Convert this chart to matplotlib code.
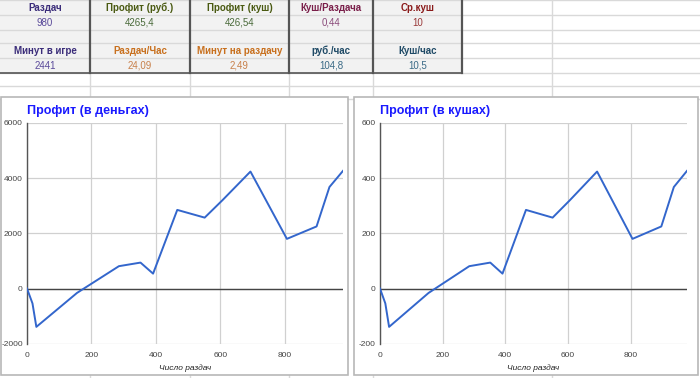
import matplotlib
matplotlib.use("Agg")
import matplotlib.pyplot as plt
from matplotlib.patches import Rectangle

plt.rcParams['font.family'] = ['Liberation Sans', 'DejaVu Sans']
plt.rcParams['axes.unicode_minus'] = False

# ---------------- data ----------------
hands = [0, 17, 29, 155, 285, 352, 391, 466, 551, 606, 693, 806, 898, 938, 980]
profit_rub = [0, -540, -1390, -160, 810, 940, 540, 2850, 2570, 3200, 4240, 1800, 2250, 3680, 4265.4]
profit_kush = [0, -54, -139, -16, 81, 94, 54, 285, 257, 320, 424, 180, 225, 368, 426.54]

row1_headers = ["Раздач", "Профит (руб.)", "Профит (куш)", "Куш/Раздача", "Ср.куш"]
row1_values = ["980", "4265,4", "426,54", "0,44", "10"]
row2_headers = ["Минут в игре", "Раздач/Час", "Минут на раздачу", "руб./час", "Куш/час"]
row2_values = ["2441", "24,09", "2,49", "104,8", "10,5"]

row1_header_colors = ["#3b2d7a", "#4a5a12", "#4a5a12", "#7a1f4a", "#8a1a1a"]
row1_value_colors = ["#5a4a9a", "#4a6a3a", "#4a6a3a", "#8a4a7a", "#9a3a3a"]
row2_header_colors = ["#3b2d7a", "#c8701e", "#c8701e", "#1f4a66", "#1f4a66"]
row2_value_colors = ["#5a4a9a", "#c8804a", "#c8804a", "#3a6a86", "#3a6a86"]

x_ticks = [0, 200, 400, 600, 800]

W, H = 700, 378
fig = plt.figure(figsize=(W / 100, H / 100), dpi=100)
fig.patch.set_facecolor("white")

# background axes in pixel coordinates (y downward)
bg = fig.add_axes([0, 0, 1, 1])
bg.set_xlim(0, W)
bg.set_ylim(H, 0)
bg.axis("off")

col_edges = [0, 90, 190, 289, 373, 462]
row_edges = [0, 15, 30, 43, 58, 73, 86, 99]
extra_cols = [552]

# table fill
bg.add_patch(Rectangle((0, 0), 462, 73, facecolor="#f2f2f2", edgecolor="none", zorder=0))
# light horizontal grid lines
for y in row_edges:
    bg.plot([0, W], [y, y], color="#d9d9d9", lw=1, zorder=1)
for x in extra_cols:
    bg.plot([x, x], [0, H], color="#d9d9d9", lw=1, zorder=1)
for x in col_edges[1:5]:
    bg.plot([x, x], [73, H], color="#d9d9d9", lw=1, zorder=1)
# dark vertical borders in table
for x in col_edges[1:]:
    bg.plot([x, x], [0, 73], color="#555555", lw=1.6, zorder=2)
bg.plot([0, 462], [73, 73], color="#555555", lw=1.2, zorder=2)

def put_row(texts, colors, yc, bold):
    for i, (t, c) in enumerate(zip(texts, colors)):
        xc = (col_edges[i] + col_edges[i + 1]) / 2
        bg.text(xc, yc, t, color=c, fontsize=7, ha="center", va="center",
                fontweight="bold" if bold else "normal", zorder=3)

put_row(row1_headers, row1_header_colors, 7.8, True)
put_row(row1_values, row1_value_colors, 22.8, False)
put_row(row2_headers, row2_header_colors, 50.8, True)
put_row(row2_values, row2_value_colors, 65.8, False)

# chart boxes
bg.add_patch(Rectangle((1, 97), 347, 278, facecolor="white", edgecolor="#b8b8b8", lw=1.2, zorder=4))
bg.add_patch(Rectangle((354, 97), 344, 278, facecolor="white", edgecolor="#b8b8b8", lw=1.2, zorder=4))


def make_chart(px_left, px_right, title, xs, ys, ylim, yticks):
    top, bottom = 123, 343.7
    ax = fig.add_axes([px_left / W, (H - bottom) / H, (px_right - px_left) / W, (bottom - top) / H])
    ax.set_facecolor("none")
    ax.plot(xs, ys, color="#3366cc", lw=1.4, zorder=5)
    ax.set_xlim(0, 980)
    ax.set_ylim(*ylim)
    ax.set_xticks(x_ticks)
    ax.set_yticks(yticks)
    ax.grid(True, color="#d0d0d0", lw=0.9)
    ax.set_axisbelow(True)
    ax.axhline(0, color="#444444", lw=1.0, zorder=4)
    for s in ["top", "right", "bottom"]:
        ax.spines[s].set_visible(False)
    ax.spines["left"].set_color("#555555")
    ax.spines["left"].set_linewidth(1.0)
    ax.tick_params(length=0, labelsize=6, labelcolor="#444444", pad=3)
    ax.tick_params(axis="x", pad=6)
    ax.set_xlabel("Число раздач", fontsize=6, style="italic", color="#222222", labelpad=4)
    ax.text(0, 1.055, title, transform=ax.transAxes, fontsize=9, fontweight="bold",
            color="#1a1aff", ha="left", va="center")
    return ax

make_chart(27, 343, "Профит (в деньгах)", hands, profit_rub, (-2000, 6000),
           [-2000, 0, 2000, 4000, 6000])
make_chart(380, 687, "Профит (в кушах)", hands, profit_kush, (-200, 600),
           [-200, 0, 200, 400, 600])

fig.savefig("out.png", dpi=100)
